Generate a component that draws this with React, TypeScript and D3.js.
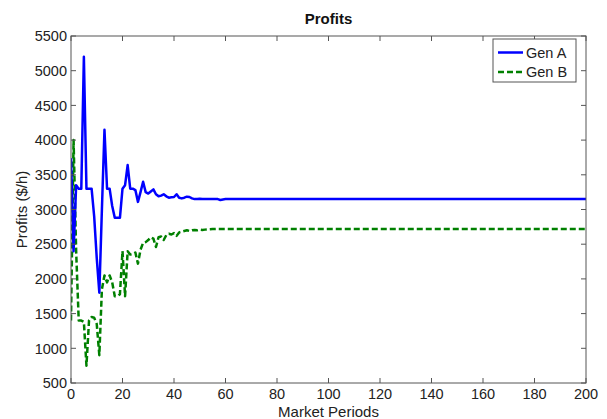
import React from "react";
import * as d3 from "d3";

// Profit per market period ($/h), periods 0..60; both generators stay flat afterwards.
const genA = [
  3740, 2400, 3350, 3300, 3300, 5200, 3300, 3300, 3300, 2900,
  2300, 1800, 3000, 4150, 3300, 3300, 3050, 2880, 2880, 2880,
  3300, 3350, 3640, 3300, 3300, 3280, 3110, 3250, 3400, 3250,
  3230, 3260, 3290, 3220, 3190, 3200, 3220, 3190, 3170, 3175,
  3180, 3220, 3170, 3160, 3170, 3185, 3180, 3160, 3150, 3150,
  3155, 3150, 3150, 3150, 3150, 3150, 3150, 3150, 3137, 3145,
  3150,
];
const genB = [
  1400, 4000, 2400, 1400, 1400, 1380, 750, 1400, 1450, 1440,
  1350, 900, 1850, 2050, 1950, 2050, 1950, 1750, 1750, 1780,
  2400, 1750, 2400, 2350, 2360, 2380, 2220, 2420, 2520, 2530,
  2560, 2600, 2580, 2460, 2600, 2610, 2560, 2630, 2650, 2640,
  2660, 2620, 2670, 2680, 2690, 2700, 2690, 2700, 2705, 2700,
  2710, 2705, 2710, 2712, 2715, 2718, 2718, 2720, 2720, 2720,
  2720,
];
const lastPeriod = 200;

const xTicks = [0, 20, 40, 60, 80, 100, 120, 140, 160, 180, 200];
const yTicks = [500, 1000, 1500, 2000, 2500, 3000, 3500, 4000, 4500, 5000, 5500];
const seriesNames = ["Gen A", "Gen B"];

const W = 607;
const H = 419;
const left = 71;
const right = 586;
const top = 36;
const bottom = 383;
const font = "'Liberation Sans', Arial, sans-serif";
const axisColor = "#555";
const tickLen = 5;

export default function App() {
  const x = d3.scaleLinear().domain([0, 200]).range([left, right]);
  const y = d3.scaleLinear().domain([500, 5500]).range([bottom, top]);

  const toPoints = (vals: number[]): [number, number][] => {
    const pts: [number, number][] = vals.map((v, i) => [i, v]);
    pts.push([lastPeriod, vals[vals.length - 1]]);
    return pts;
  };

  const line = d3
    .line<[number, number]>()
    .x((d) => x(d[0]))
    .y((d) => y(d[1]));

  const pathA = line(toPoints(genA)) || "";
  const pathB = line(toPoints(genB)) || "";

  const legX = 493;
  const legY = 39;
  const legW = 83;
  const legH = 43;

  return (
    <svg
      width={W}
      height={H}
      style={{ position: "absolute", left: 0, top: 0, background: "#fff" }}
      fontFamily={font}
    >
      <rect x={0} y={0} width={W} height={H} fill="#fff" />

      <defs>
        <clipPath id="plot-clip">
          <rect x={left} y={top} width={right - left} height={bottom - top} />
        </clipPath>
      </defs>

      {/* data lines */}
      <g clipPath="url(#plot-clip)">
        <path
          d={pathB}
          fill="none"
          stroke="#008000"
          strokeWidth={2.5}
          strokeDasharray="6,3"
          strokeLinejoin="round"
        />
        <path
          d={pathA}
          fill="none"
          stroke="#0000ff"
          strokeWidth={2.5}
          strokeLinejoin="round"
        />
      </g>

      {/* axes box */}
      <rect
        x={left}
        y={top}
        width={right - left}
        height={bottom - top}
        fill="none"
        stroke={axisColor}
        strokeWidth={1}
      />

      {/* x ticks */}
      {xTicks.map((t) => (
        <g key={"x" + t}>
          <line x1={x(t)} x2={x(t)} y1={bottom} y2={bottom - tickLen} stroke={axisColor} />
          <line x1={x(t)} x2={x(t)} y1={top} y2={top + tickLen} stroke={axisColor} />
          <text
            x={x(t)}
            y={399}
            textAnchor="middle"
            fontSize={14.5}
            fill="#222"
          >
            {t}
          </text>
        </g>
      ))}

      {/* y ticks */}
      {yTicks.map((t) => (
        <g key={"y" + t}>
          <line x1={left} x2={left + tickLen} y1={y(t)} y2={y(t)} stroke={axisColor} />
          <line x1={right} x2={right - tickLen} y1={y(t)} y2={y(t)} stroke={axisColor} />
          <text
            x={left - 4}
            y={y(t)}
            dy="0.36em"
            textAnchor="end"
            fontSize={14.5}
            fill="#222"
          >
            {t}
          </text>
        </g>
      ))}

      {/* title and axis labels */}
      <text
        x={(left + right) / 2}
        y={24}
        textAnchor="middle"
        fontSize={15}
        fontWeight="bold"
        fill="#111"
      >
        Profits
      </text>
      <text
        x={(left + right) / 2}
        y={417}
        textAnchor="middle"
        fontSize={15}
        fill="#222"
      >
        Market Periods
      </text>
      <text
        transform={`translate(27, ${(top + bottom) / 2}) rotate(-90)`}
        textAnchor="middle"
        fontSize={15}
        fill="#222"
      >
        Profits ($/h)
      </text>

      {/* legend */}
      <rect
        x={legX}
        y={legY}
        width={legW}
        height={legH}
        fill="#fff"
        stroke={axisColor}
        strokeWidth={1}
      />
      {seriesNames.map((name, i) => {
        const cy = legY + 13.5 + i * 19.5;
        return (
          <g key={name}>
            <line
              x1={legX + 5}
              x2={legX + 30}
              y1={cy}
              y2={cy}
              stroke={i === 0 ? "#0000ff" : "#008000"}
              strokeWidth={2.5}
              strokeDasharray={i === 0 ? undefined : "6,3"}
            />
            <text x={legX + 33} y={cy} dy="0.36em" fontSize={14.5} fill="#222">
              {name}
            </text>
          </g>
        );
      })}
    </svg>
  );
}
